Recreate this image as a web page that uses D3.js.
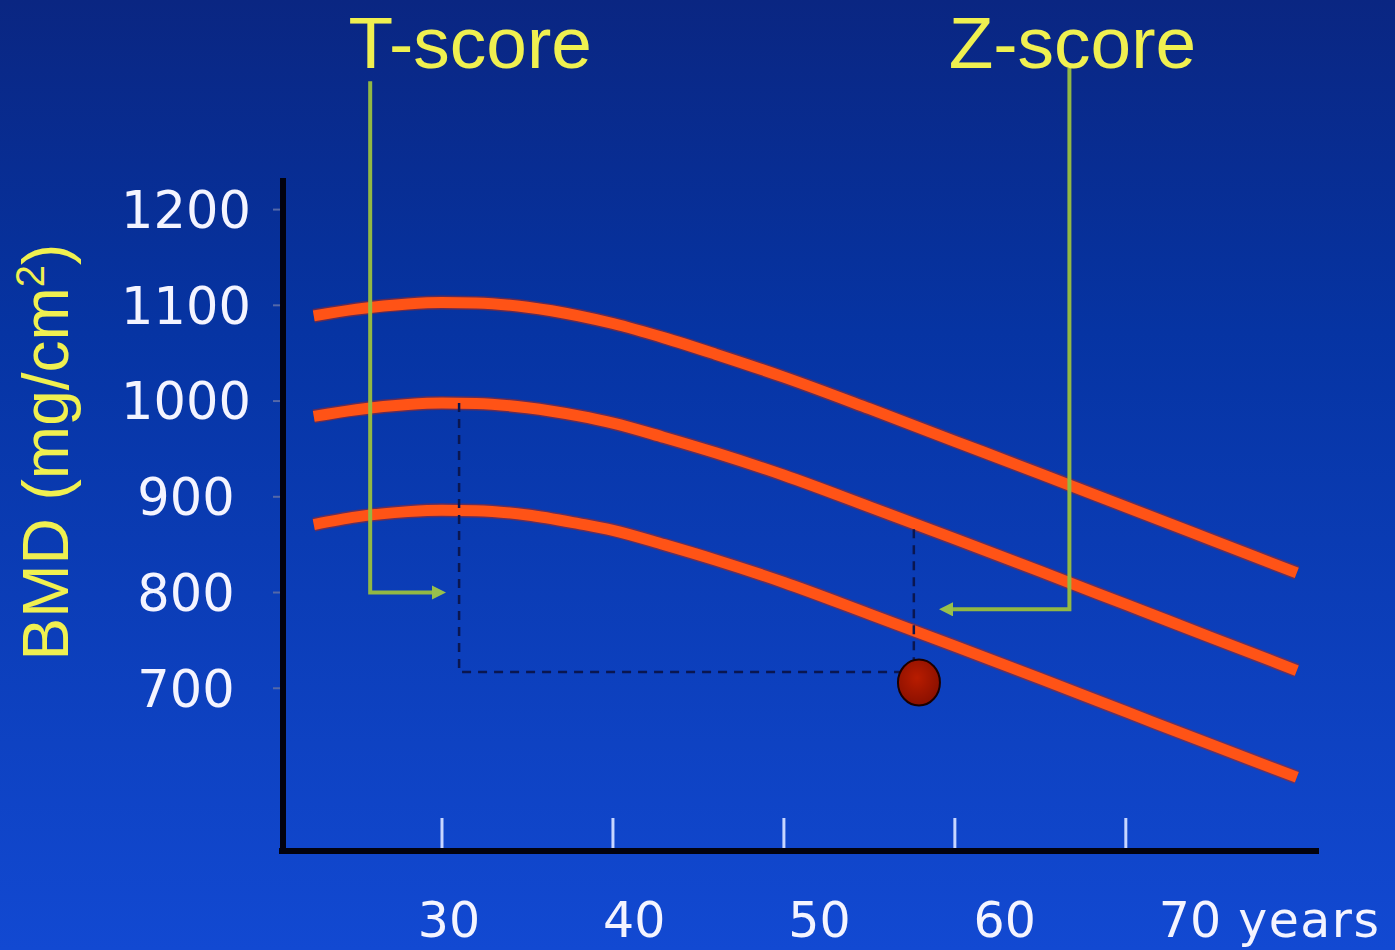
<!DOCTYPE html>
<html><head><meta charset="utf-8">
<script src="https://cdn.jsdelivr.net/npm/d3@7"></script>
<style>html,body{margin:0;padding:0;background:#0b2a8a;overflow:hidden}</style>
</head><body>
<svg id="chart" width="1395" height="950"></svg>
<script>
// ---- data ----
const ages    = [22.5, 25, 28, 30, 32, 35, 38, 40, 43, 46, 50, 55, 60, 65, 70, 75, 80];
const upperSD = [1089, 1096, 1101.5, 1103, 1102.5, 1098, 1089, 1081, 1066, 1049, 1025, 992, 958, 924, 889.5, 855, 820.5];
const meanBMD = [984, 991, 996.5, 998, 997.5, 993, 984.5, 977, 962, 946, 922.5, 889.5, 856, 822, 787.5, 753, 718.5];
const lowerSD = [871, 879, 884.5, 886, 885.5, 881, 872, 865, 850, 834, 810.5, 777.5, 744, 710, 675.5, 641, 607];
const yTicks = [700, 800, 900, 1000, 1100, 1200];
const xTicks = [30, 40, 50, 60, 70];
const xTickLabels = ["30", "40", "50", "60", "70"];
const xUnit = "years";
const yTitle = "BMD (mg/cm";
const patientAge = [57.9];
const patientBMD = [706];
// dashed guide: peak of mean curve -> patient level -> patient age
const guideAges = [31, 31, 57.9];
const guideBMD  = [998, 717, 717];
const guide2Ages = [57.6, 57.6];
const guide2BMD  = [866, 706];
// annotation arrows (age, bmd)
const tArrowAges = [25.8, 25.8, 29.9];
const tArrowBMD  = [1334, 800, 800];
const zArrowAges = [66.7, 66.7, 59.4];
const zArrowBMD  = [1348, 782.5, 782.5];
const annoLabels = ["T-score", "Z-score"];

// ---- layout ----
const W = 1395, H = 950;
const svg = d3.select("#chart");
const x = d3.scaleLinear().domain([20.7, 81.3]).range([283, 1319]);
const y = d3.scaleLinear().domain([530, 1233]).range([851, 178]);
const labelX = d3.scaleLinear().domain([30, 70]).range([449, 1190]);

// background gradient
const defs = svg.append("defs");
const bg = defs.append("linearGradient").attr("id","bg").attr("x1",0).attr("y1",0).attr("x2",0).attr("y2",1);
bg.append("stop").attr("offset","0%").attr("stop-color","#0a2682");
bg.append("stop").attr("offset","35%").attr("stop-color","#0634a3");
bg.append("stop").attr("offset","100%").attr("stop-color","#1249d2");
const dotG = defs.append("radialGradient").attr("id","dotg").attr("cx","45%").attr("cy","40%").attr("r","60%");
dotG.append("stop").attr("offset","0%").attr("stop-color","#b81c00");
dotG.append("stop").attr("offset","100%").attr("stop-color","#8a1000");
defs.append("marker").attr("id","mk").attr("viewBox","0 0 10 10").attr("refX",6).attr("refY",5)
  .attr("markerWidth",3.6).attr("markerHeight",3.6).attr("orient","auto")
  .append("path").attr("d","M0,0 L10,5 L0,10 Z").attr("fill","#98c04c");
svg.append("rect").attr("width",W).attr("height",H).attr("fill","url(#bg)");

// y tick marks (faint)
svg.append("g").selectAll("line").data(yTicks).join("line")
  .attr("x1", x(20.7) - 10).attr("x2", x(20.7)).attr("y1", d => y(d)).attr("y2", d => y(d))
  .attr("stroke","#5468a8").attr("stroke-width",2);

// x tick marks (light)
svg.append("g").selectAll("line").data(xTicks).join("line")
  .attr("x1", d => x(d)).attr("x2", d => x(d)).attr("y1", y(530) - 33).attr("y2", y(530) - 3)
  .attr("stroke","#c8d6ff").attr("stroke-width",3);

// axes
svg.append("line").attr("x1", x(20.7)).attr("x2", x(20.7)).attr("y1", y(1233)).attr("y2", y(530) + 3)
  .attr("stroke","#02020e").attr("stroke-width",6);
svg.append("line").attr("x1", x(20.7) - 4).attr("x2", x(81.3)).attr("y1", y(530)).attr("y2", y(530))
  .attr("stroke","#02020e").attr("stroke-width",6);

// curves
const line = d3.line().x(d => x(d[0])).y(d => y(d[1])).curve(d3.curveMonotoneX);
[upperSD, meanBMD, lowerSD].forEach(series => {
  const pts = ages.map((a, i) => [a, series[i]]);
  svg.append("path").attr("d", line(pts)).attr("fill","none")
    .attr("stroke","#b8240c").attr("stroke-width",14).attr("stroke-opacity",0.5);
  svg.append("path").attr("d", line(pts)).attr("fill","none")
    .attr("stroke","#ff5316").attr("stroke-width",11);
});

// dashed guides
const straight = d3.line().x(d => x(d[0])).y(d => y(d[1]));
svg.append("path").attr("d", straight(guideAges.map((a,i)=>[a, guideBMD[i]])))
  .attr("fill","none").attr("stroke","#0a1650").attr("stroke-width",2.5).attr("stroke-dasharray","9,7");
svg.append("path").attr("d", straight(guide2Ages.map((a,i)=>[a, guide2BMD[i]])))
  .attr("fill","none").attr("stroke","#0a1650").attr("stroke-width",2.5).attr("stroke-dasharray","9,7");

// patient dot
svg.selectAll("ellipse.pt").data(patientAge).join("ellipse").attr("class","pt")
  .attr("cx", d => x(d)).attr("cy", (d, i) => y(patientBMD[i]))
  .attr("rx", 21).attr("ry", 23).attr("fill","url(#dotg)").attr("stroke","#1a0000").attr("stroke-width",2);

// green annotation arrows
[[tArrowAges, tArrowBMD], [zArrowAges, zArrowBMD]].forEach(([A, B]) => {
  svg.append("path").attr("d", straight(A.map((a,i)=>[a, B[i]])))
    .attr("fill","none").attr("stroke","#92b844").attr("stroke-width",4)
    .attr("stroke-linejoin","miter").attr("marker-end","url(#mk)");
});

// annotation titles
const titleFont = "'Liberation Sans', Arial, sans-serif";
svg.selectAll("text.anno").data(annoLabels).join("text").attr("class","anno")
  .attr("x", (d, i) => x(i === 0 ? tArrowAges[0] : zArrowAges[0]) + (i === 0 ? 100 : 3))
  .attr("y", 68).attr("text-anchor","middle")
  .attr("font-family", titleFont).attr("font-size", 73).attr("fill","#f0f050")
  .text(d => d);

// y tick labels
const tickFont = "'DejaVu Sans', Verdana, sans-serif";
svg.append("g").selectAll("text").data(yTicks).join("text")
  .attr("x", 186).attr("y", d => y(d)).attr("dy","0.36em").attr("text-anchor","middle")
  .attr("font-family", tickFont).attr("font-size", 51).attr("fill","#f4f4ff")
  .text(d => d);

// x tick labels
const xl = svg.append("g").selectAll("text").data(xTicks).join("text")
  .attr("x", d => labelX(d)).attr("y", 937).attr("text-anchor","middle")
  .attr("font-family", tickFont).attr("font-size", 49).attr("fill","#f4f4ff")
  .text((d, i) => xTickLabels[i]);
const lastBox = xl.nodes()[xl.nodes().length - 1].getBBox();
svg.append("text").attr("x", lastBox.x + lastBox.width + 17).attr("y", 937)
  .attr("font-family", tickFont).attr("font-size", 49).attr("fill","#f4f4ff")
  .attr("letter-spacing", 1.5).text(xUnit);

// y title
const yt = svg.append("text").attr("transform","translate(68,452) rotate(-90)")
  .attr("text-anchor","middle").attr("font-family", titleFont).attr("font-size", 64).attr("fill","#f0f050");
yt.append("tspan").text(yTitle);
yt.append("tspan").attr("dy", -24).attr("font-size", 40).text("2");
yt.append("tspan").attr("dy", 24).text(")");
</script>
</body></html>
